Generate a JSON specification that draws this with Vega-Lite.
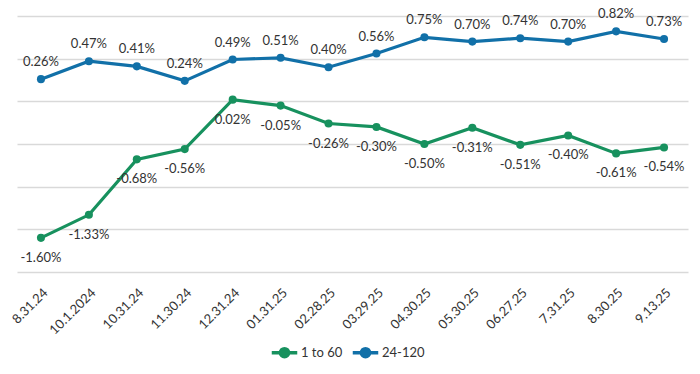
{
  "$schema": "https://vega.github.io/schema/vega-lite/v6.json",
  "width": 671,
  "height": 256,
  "autosize": {"type": "none"},
  "padding": {"left": 17, "top": 16, "right": 12, "bottom": 102},
  "config": {
    "view": {"stroke": null},
    "font": "Lato",
    "text": {"font": "Lato"}
  },
  "data": {
    "values": [
      {"date": "8.31.24", "series": "1 to 60", "value": -0.0160},
      {"date": "10.1.2024", "series": "1 to 60", "value": -0.0133},
      {"date": "10.31.24", "series": "1 to 60", "value": -0.0068},
      {"date": "11.30.24", "series": "1 to 60", "value": -0.0056},
      {"date": "12.31.24", "series": "1 to 60", "value": 0.0002},
      {"date": "01.31.25", "series": "1 to 60", "value": -0.0005},
      {"date": "02.28.25", "series": "1 to 60", "value": -0.0026},
      {"date": "03.29.25", "series": "1 to 60", "value": -0.0030},
      {"date": "04.30.25", "series": "1 to 60", "value": -0.0050},
      {"date": "05.30.25", "series": "1 to 60", "value": -0.0031},
      {"date": "06.27.25", "series": "1 to 60", "value": -0.0051},
      {"date": "7.31.25", "series": "1 to 60", "value": -0.0040},
      {"date": "8.30.25", "series": "1 to 60", "value": -0.0061},
      {"date": "9.13.25", "series": "1 to 60", "value": -0.0054},
      {"date": "8.31.24", "series": "24-120", "value": 0.0026},
      {"date": "10.1.2024", "series": "24-120", "value": 0.0047},
      {"date": "10.31.24", "series": "24-120", "value": 0.0041},
      {"date": "11.30.24", "series": "24-120", "value": 0.0024},
      {"date": "12.31.24", "series": "24-120", "value": 0.0049},
      {"date": "01.31.25", "series": "24-120", "value": 0.0051},
      {"date": "02.28.25", "series": "24-120", "value": 0.0040},
      {"date": "03.29.25", "series": "24-120", "value": 0.0056},
      {"date": "04.30.25", "series": "24-120", "value": 0.0075},
      {"date": "05.30.25", "series": "24-120", "value": 0.0070},
      {"date": "06.27.25", "series": "24-120", "value": 0.0074},
      {"date": "7.31.25", "series": "24-120", "value": 0.0070},
      {"date": "8.30.25", "series": "24-120", "value": 0.0082},
      {"date": "9.13.25", "series": "24-120", "value": 0.0073}
    ]
  },
  "transform": [
    {"calculate": "replace(format(datum.value, '.2%'), '\u2212', '-')", "as": "label"}
  ],
  "encoding": {
    "x": {
      "field": "date",
      "type": "ordinal",
      "sort": null,
      "scale": {"type": "point", "padding": 0.5},
      "axis": {
        "title": null,
        "domain": false,
        "ticks": false,
        "labelAngle": -45,
        "labelFont": "Lato",
        "labelFontSize": 13,
        "labelColor": "#333333",
        "labelPadding": 14
      }
    },
    "y": {
      "field": "value",
      "type": "quantitative",
      "scale": {"domain": [-0.02, 0.01], "nice": false, "zero": false},
      "axis": {
        "title": null,
        "domain": false,
        "ticks": false,
        "labels": false,
        "values": [-0.02, -0.015, -0.01, -0.005, 0, 0.005, 0.01],
        "grid": true,
        "gridColor": "#d9d9d9",
        "gridWidth": 1.5
      }
    }
  },
  "layer": [
    {
      "mark": {"type": "line", "strokeWidth": 3.2},
      "encoding": {
        "color": {
          "field": "series",
          "type": "nominal",
          "scale": {"domain": ["1 to 60", "24-120"], "range": ["#17915e", "#1170a8"]},
          "legend": {
            "title": null,
            "orient": "none",
            "direction": "horizontal",
            "legendX": 253,
            "legendY": 322,
            "symbolType": "M-1,0L1,0M-0.32,0A0.32,0.32 0 1,1 0.32,0A0.32,0.32 0 1,1 -0.32,0Z",
            "symbolSize": 650,
            "symbolStrokeWidth": 3.5,
            "labelFont": "Lato",
            "labelFontSize": 13,
            "labelColor": "#333333",
            "labelOffset": 2,
            "columnPadding": 2
          }
        }
      }
    },
    {
      "mark": {"type": "point", "filled": true, "size": 65, "opacity": 1},
      "encoding": {
        "color": {"field": "series", "type": "nominal", "legend": null}
      }
    },
    {
      "transform": [{"filter": "datum.series == '24-120'"}],
      "mark": {"type": "text", "dy": -17, "font": "Lato", "fontSize": 13, "color": "#333333"},
      "encoding": {
        "text": {"field": "label", "type": "nominal"}
      }
    },
    {
      "transform": [{"filter": "datum.series == '1 to 60'"}],
      "mark": {"type": "text", "dy": 20, "font": "Lato", "fontSize": 13, "color": "#333333"},
      "encoding": {
        "text": {"field": "label", "type": "nominal"}
      }
    }
  ]
}
